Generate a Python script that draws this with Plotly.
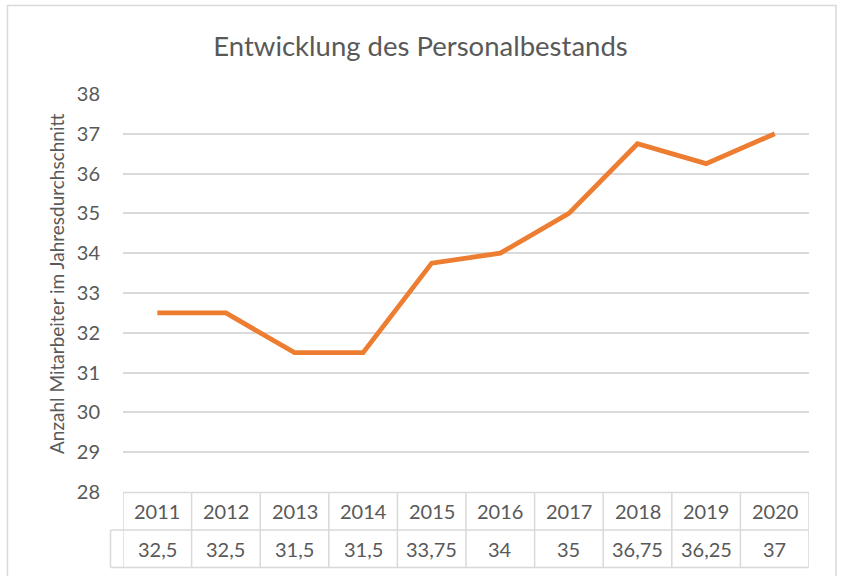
import plotly.graph_objects as go

years = ["2011", "2012", "2013", "2014", "2015", "2016", "2017", "2018", "2019", "2020"]
values = [32.5, 32.5, 31.5, 31.5, 33.75, 34, 35, 36.75, 36.25, 37]
value_labels = ["32,5", "32,5", "31,5", "31,5", "33,75", "34", "35", "36,75", "36,25", "37"]
y_ticks = [28, 29, 30, 31, 32, 33, 34, 35, 36, 37, 38]

TXT = "#595959"
GRID = "#d9d9d9"
FONT = "Lato, 'Open Sans', sans-serif"

W, H = 841, 576
L, R, T, B = 123, 32, 94, 84
PW, PH = W - L - R, H - T - B

def px_x(x):
    return (x - L) / PW

def px_y(y):
    return (H - B - y) / PH

fig = go.Figure()
fig.add_trace(go.Scatter(
    x=years, y=values, mode="lines",
    line=dict(color="#ED7D31", width=4.8),
    hoverinfo="x+y", showlegend=False,
))

shapes = []
# outer chart border
shapes.append(dict(type="rect", xref="paper", yref="paper",
                   x0=px_x(7.5), x1=px_x(836), y0=px_y(580), y1=px_y(5.5),
                   line=dict(color=GRID, width=1.5), fillcolor="rgba(0,0,0,0)", layer="below"))

# data table lines
y_top, y_mid, y_bot = px_y(492.5), px_y(530), px_y(567.5)
n = len(years)
for i in range(n + 1):
    shapes.append(dict(type="line", xref="x", yref="paper", x0=i - 0.5, x1=i - 0.5,
                       y0=y_bot, y1=y_top, line=dict(color=GRID, width=1.5)))
shapes.append(dict(type="line", xref="x", yref="paper", x0=-0.5, x1=n - 0.5,
                   y0=y_top, y1=y_top, line=dict(color=GRID, width=1.5)))
shapes.append(dict(type="line", xref="paper", yref="paper", x0=px_x(110.5), x1=1,
                   y0=y_mid, y1=y_mid, line=dict(color=GRID, width=1.5)))
shapes.append(dict(type="line", xref="paper", yref="paper", x0=px_x(110.5), x1=1,
                   y0=y_bot, y1=y_bot, line=dict(color=GRID, width=1.5)))
shapes.append(dict(type="line", xref="paper", yref="paper", x0=px_x(110.5), x1=px_x(110.5),
                   y0=y_bot, y1=y_mid, line=dict(color=GRID, width=1.5)))

annotations = []
for i, (yr, lab) in enumerate(zip(years, value_labels)):
    annotations.append(dict(x=i, xref="x", y=px_y(511), yref="paper", text=yr,
                            showarrow=False, font=dict(size=20, color=TXT, family=FONT),
                            xanchor="center", yanchor="middle"))
    annotations.append(dict(x=i, xref="x", y=px_y(549), yref="paper", text=lab,
                            showarrow=False, font=dict(size=20, color=TXT, family=FONT),
                            xanchor="center", yanchor="middle"))

# y axis title (positioned like the Excel original)
annotations.append(dict(x=px_x(56), xref="paper", y=px_y(284), yref="paper",
                        text="Anzahl Mitarbeiter im Jahresdurchschnitt", textangle=-90,
                        showarrow=False, font=dict(size=19, color=TXT, family=FONT),
                        xanchor="center", yanchor="middle"))

fig.update_layout(
    width=W, height=H,
    margin=dict(l=L, r=R, t=T, b=B),
    paper_bgcolor="white", plot_bgcolor="white",
    title=dict(text="Entwicklung des Personalbestands", x=0.5, xanchor="center",
               y=1 - 46 / H, yanchor="middle",
               font=dict(size=27.5, color=TXT, family=FONT)),
    xaxis=dict(type="category", range=[-0.5, n - 0.5], showticklabels=False,
               showgrid=False, zeroline=False, showline=False, ticks=""),
    yaxis=dict(range=[28, 38], tickvals=y_ticks, showgrid=True, gridcolor=GRID,
               gridwidth=1.5, zeroline=False, showline=False, ticks="",
               ticklabelstandoff=22,
               tickfont=dict(size=20, color=TXT, family=FONT)),
    shapes=shapes,
    annotations=annotations,
    showlegend=False,
)

fig.write_html("out.html", config={"displayModeBar": False},
               post_script="document.body.style.margin='0';")
